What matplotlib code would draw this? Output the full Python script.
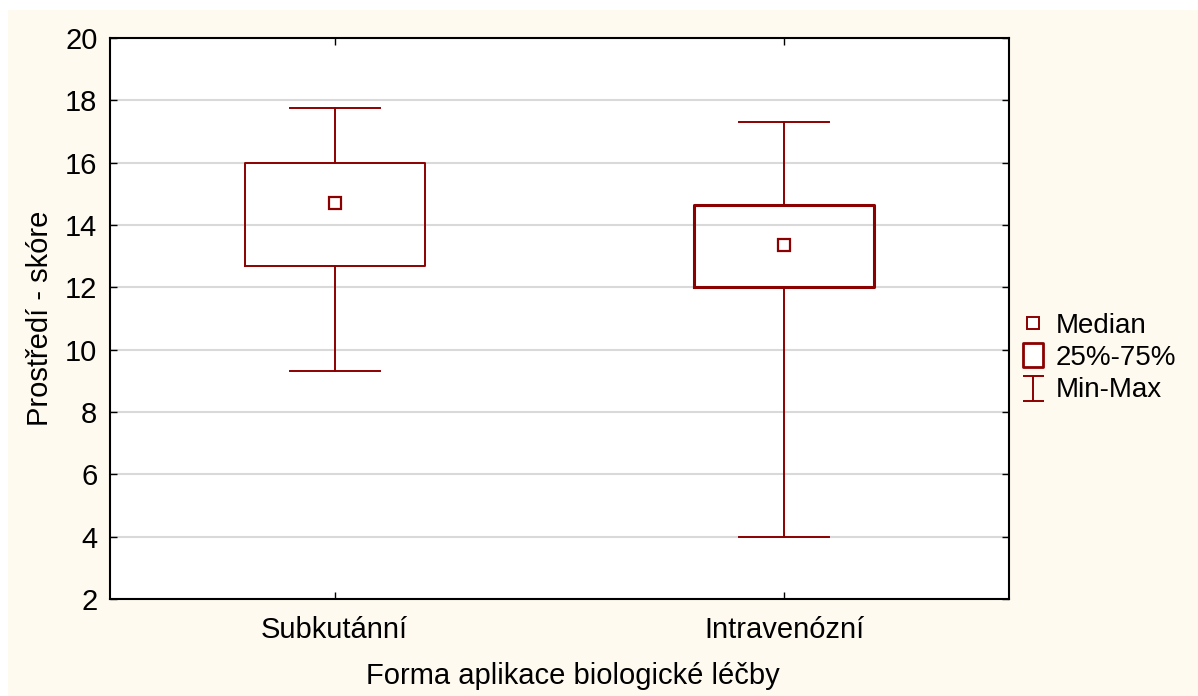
import matplotlib
matplotlib.use("Agg")
import matplotlib.pyplot as plt
from matplotlib.lines import Line2D
from matplotlib.patches import Rectangle
from matplotlib.path import Path

plt.rcParams['font.family'] = ['Liberation Sans', 'DejaVu Sans']

groups = ["Subkutánní", "Intravenózní"]
mins = [9.3, 4.0]
q1s = [12.7, 12.0]
medians = [14.7, 13.35]
q3s = [16.0, 14.65]
maxs = [17.75, 17.3]
yticks = [2, 4, 6, 8, 10, 12, 14, 16, 18, 20]

red = "#8B0000"
cream = "#FFFAF0"

fig = plt.figure(figsize=(11.98, 6.96), dpi=100, facecolor="white")
fig.patches.append(Rectangle((8 / 1198, 0), 1, (696 - 10) / 696,
                             transform=fig.transFigure, facecolor=cream,
                             edgecolor="none", zorder=-10))

ax = fig.add_axes([110 / 1198, 97 / 696, 899 / 1198, 561 / 696])
ax.set_facecolor("white")

stats = []
for i in range(len(groups)):
    stats.append(dict(whislo=mins[i], q1=q1s[i], med=medians[i], q3=q3s[i],
                      whishi=maxs[i], mean=medians[i], fliers=[], label=groups[i]))

for i, s in enumerate(stats):
    lw = 1.4 if i == 0 else 2.2
    ax.bxp([s], positions=[i + 1], widths=0.4, capwidths=0.2, showmeans=True,
           showfliers=False,
           boxprops=dict(color=red, linewidth=lw),
           whiskerprops=dict(color=red, linewidth=1.4),
           capprops=dict(color=red, linewidth=1.4),
           medianprops=dict(linewidth=0),
           meanprops=dict(marker="s", markersize=8, markerfacecolor="white",
                          markeredgecolor=red, markeredgewidth=1.6),
           zorder=3)

ax.set_xlim(0.5, 2.5)
ax.set_ylim(2, 20)
ax.set_yticks(yticks)
ax.set_xticks([1, 2])
ax.set_xticklabels(groups)
ax.yaxis.grid(True, color="#d9d9d9", linewidth=1.5)
ax.set_axisbelow(True)
ax.tick_params(direction="in", length=5, width=1, labelsize=21, top=True, right=True)
ax.tick_params(axis="x", pad=12)
ax.tick_params(axis="y", pad=9)
for sp in ax.spines.values():
    sp.set_linewidth(1.5)
    sp.set_color("black")

ax.set_xlabel("Forma aplikace biologické léčby", fontsize=21, labelpad=13)
ax.xaxis.label.set_x(0.515)
ax.set_ylabel("Prostředí - skóre", fontsize=21, labelpad=8)

rect_marker = Path([(-0.42, -0.5), (0.42, -0.5), (0.42, 0.5), (-0.42, 0.5), (-0.42, -0.5)],
                   [Path.MOVETO, Path.LINETO, Path.LINETO, Path.LINETO, Path.CLOSEPOLY])
i_marker = Path([(-0.42, 0.5), (0.42, 0.5), (0, 0.5), (0, -0.5), (-0.42, -0.5), (0.42, -0.5)],
                [Path.MOVETO, Path.LINETO, Path.MOVETO, Path.LINETO,
                 Path.MOVETO, Path.LINETO])
handles = [
    Line2D([], [], linestyle="none", marker="s", markersize=8,
           markerfacecolor="white", markeredgecolor=red, markeredgewidth=1.4),
    Line2D([], [], linestyle="none", marker=rect_marker, markersize=17,
           markerfacecolor="white", markeredgecolor=red, markeredgewidth=2.0),
    Line2D([], [], linestyle="none", marker=i_marker, markersize=18,
           markerfacecolor="none", markeredgecolor=red, markeredgewidth=1.4),
]
fig.legend(handles, ["Median", "25%-75%", "Min-Max"], loc="upper left",
           bbox_to_anchor=(1016.5 / 1198, (696 - 313) / 696), frameon=False,
           fontsize=20, handlelength=1.2, handletextpad=0.22, labelspacing=0.22,
           borderaxespad=0, borderpad=0)

fig.savefig("out.png", dpi=100, facecolor="white")
